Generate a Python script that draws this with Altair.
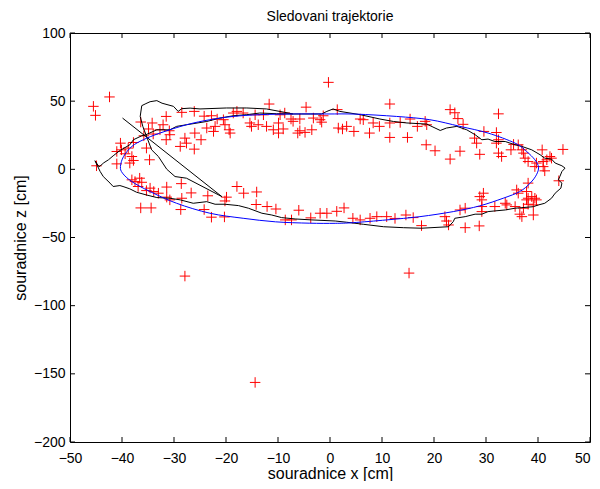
import altair as alt
import pandas as pd

FONT = "Liberation Sans"

x_ticks = [-50, -40, -30, -20, -10, 0, 10, 20, 30, 40, 50]
y_ticks = [-200, -150, -100, -50, 0, 50, 100]

# measured positions (red +)
marker_points = [
    (-42.4, 53.1), (-45.5, 46.2), (-45.1, 39.6), (-36.4, 34.7), (-34.2, 34.0), (-32.1, 32.7),
    (-31.5, 38.8), (-28.5, 41.8), (-26.1, 42.5), (-24.2, 39.0), (-22.8, 39.3), (-34.9, 29.6),
    (-32.7, 29.0), (-30.9, 28.3), (-34.0, 25.9), (-30.8, 25.4), (-35.8, 24.6), (-26.0, 26.6),
    (-23.7, 30.3), (-27.9, 22.9), (-31.5, 21.7), (-27.6, 19.2), (-28.8, 16.8), (-24.8, 21.7),
    (-26.1, 14.8), (-35.3, 15.6), (-40.3, 19.2), (-37.8, 19.7), (-38.8, 15.6), (-40.1, 14.3),
    (-41.0, 13.1), (-39.4, 11.4), (-38.1, 9.4), (-34.7, 7.0), (-38.5, 4.6), (-37.8, 6.5),
    (-41.0, 4.0), (-44.9, 2.6), (-22.4, 27.8), (-22.1, 31.5), (-20.2, 32.7), (-19.4, 29.0),
    (-19.2, 26.6), (-20.5, 36.4), (-21.7, 36.9), (-18.6, 41.3), (-17.9, 42.5), (-16.7, 41.3),
    (-14.4, 40.0), (-12.8, 40.0), (-15.4, 34.0), (-15.1, 31.5), (-13.8, 32.7), (-12.2, 31.5),
    (-10.9, 29.0), (-9.9, 34.0), (-9.0, 29.6), (-9.9, 26.6), (-8.7, 41.3), (-11.7, 47.9),
    (-4.6, 45.6), (-7.5, 36.9), (-7.1, 35.2), (-5.8, 36.9), (-3.2, 37.6), (-1.9, 36.4),
    (-4.8, 27.1), (-5.8, 28.3), (-3.5, 29.0), (-1.6, 34.6), (-6.2, 26.6), (-9.6, 40.0),
    (-1.3, 39.3), (-0.3, 63.8), (1.4, 43.8), (1.6, 30.3), (2.4, 29.6), (3.2, 31.5),
    (4.6, 27.8), (5.8, 36.9), (6.4, 36.4), (7.6, 26.6), (8.3, 34.0), (9.5, 31.5),
    (11.5, 34.0), (11.5, 23.4), (11.5, 47.9), (13.5, 34.4), (14.9, 23.4), (15.4, 36.9),
    (16.8, 31.5), (18.3, 35.2), (18.6, 32.7), (18.5, 18.0), (20.2, 13.6), (23.1, 7.5),
    (23.1, 43.8), (24.0, 41.5), (24.6, 37.2), (25.6, 33.0), (32.4, 40.7), (29.6, 27.8),
    (32.0, 27.0), (27.8, 22.9), (28.2, 19.2), (32.0, 19.2), (32.4, 21.7), (25.0, 13.3),
    (28.8, 11.0), (32.4, 11.9), (33.0, 9.4), (34.8, 14.3), (35.3, 18.3), (36.2, 18.0),
    (36.9, 14.3), (37.2, 11.9), (37.5, 8.2), (38.1, 5.7), (40.8, 14.3), (39.7, 4.6),
    (41.0, 5.7), (41.7, 7.0), (42.3, 9.4), (42.6, 8.2), (39.4, 2.0), (41.0, 2.0),
    (41.3, -1.1), (44.8, 14.6), (44.0, -8.4), (38.1, -10.1), (35.9, -15.1), (37.8, -16.3),
    (36.2, -17.5), (38.1, -21.2), (38.8, -20.0), (39.4, -21.2), (39.7, -22.4), (37.8, -22.4),
    (39.1, -26.1), (38.1, -25.6), (37.2, -28.5), (35.6, -27.3), (33.7, -24.9), (34.0, -26.1),
    (36.5, -32.9), (36.9, -34.7), (39.1, -33.5), (31.7, -27.3), (28.8, -20.0), (29.2, -22.4),
    (29.5, -17.5), (29.2, -27.3), (29.2, -31.0), (25.0, -29.8), (26.0, -28.5), (26.0, -42.8),
    (28.7, -41.5), (22.1, -34.7), (22.4, -37.9), (22.8, -40.8), (17.6, -41.3), (16.0, -35.4),
    (14.6, -33.5), (12.5, -36.0), (10.9, -34.7), (9.0, -34.7), (7.7, -35.9), (5.8, -37.1),
    (4.4, -35.9), (2.7, -28.3), (1.3, -30.8), (-0.6, -32.2), (-1.9, -32.2), (-3.7, -35.6),
    (-6.0, -30.0), (-8.6, -37.1), (-7.4, -37.1), (-10.4, -29.1), (-12.1, -27.3), (-14.2, -25.8),
    (-14.1, -16.6), (-16.6, -17.5), (-17.9, -12.6), (-19.9, -20.4), (-20.2, -23.2), (-23.5, -19.4),
    (-22.8, -35.1), (-20.3, -34.9), (-24.2, -29.5), (-28.7, -29.5), (-36.4, -28.3), (-34.4, -28.3),
    (-26.7, -17.3), (-28.5, -21.2), (-28.6, -10.5), (-31.4, -20.4), (-31.4, -13.0), (-33.0, -17.5),
    (-33.9, -16.3), (-35.3, -15.6), (-34.6, -13.8), (-36.9, -12.6), (-38.1, -7.7), (-36.6, -6.5),
    (-36.2, -9.5), (-37.5, -9.0), (-30.8, -22.4), (-27.9, -78.3), (15.2, -76.1), (-14.4, -156.3),
]

# black trajectory, in drawing order
trajectory_points = [
    (-39.9, 37.6), (-20.8, -20.0), (-27.6, -6.5), (-29.8, -5.3), (-31.4, 0.1), (-33.0, 9.4),
    (-34.3, 14.3), (-35.4, 25.4), (-36.0, 31.5), (-36.5, 38.8), (-36.2, 46.7),
    (-35.4, 48.2), (-34.6, 49.6), (-33.3, 50.4), (-32.3, 48.5), (-30.1, 46.2), (-29.2, 42.5),
    (-28.5, 44.5), (-26.9, 44.9), (-25.0, 44.3), (-19.9, 45.0), (-16.0, 45.0), (-12.2, 44.3),
    (-8.7, 41.8), (-7.1, 40.6), (-1.6, 40.6), (-0.6, 42.5), (0.6, 44.3), (1.9, 42.5),
    (5.8, 40.1), (9.6, 36.9), (12.2, 35.1), (14.8, 34.0), (18.6, 33.2), (21.2, 28.5),
    (22.4, 30.3), (24.4, 31.5), (26.3, 29.0), (27.9, 25.4), (29.2, 21.7), (30.4, 22.2),
    (31.7, 20.4), (33.7, 20.4), (35.6, 18.0), (36.9, 16.8), (38.8, 14.3), (40.4, 10.7),
    (41.3, 8.2), (42.6, 7.5), (43.3, 4.6), (44.6, 2.6), (45.2, 0.9),
    (44.6, -1.6), (44.2, -5.3), (43.9, -7.7), (44.6, -10.1), (44.4, -13.8), (43.3, -17.5),
    (42.6, -21.2), (41.3, -24.9), (40.1, -26.1), (39.1, -27.4), (36.9, -28.1), (35.6, -28.5),
    (33.7, -29.8), (31.7, -30.5), (30.4, -31.0), (29.2, -32.9), (27.9, -32.9), (26.0, -34.7),
    (24.0, -35.9), (23.7, -38.4), (22.8, -42.1), (17.6, -43.2), (14.1, -42.8), (10.3, -42.1),
    (6.4, -40.3), (3.2, -38.8), (1.0, -37.9), (-3.5, -37.1), (-6.7, -36.4), (-9.3, -35.4),
    (-11.2, -33.5), (-13.1, -32.2), (-15.7, -28.5), (-17.6, -26.6), (-20.2, -25.6), (-22.1, -25.6),
    (-23.7, -23.7), (-26.3, -24.9), (-28.8, -22.4), (-30.8, -21.2), (-33.3, -20.7), (-35.3, -18.8),
    (-37.2, -16.8), (-38.5, -14.3), (-39.8, -12.6), (-40.4, -11.9), (-41.7, -12.6), (-42.3, -10.1),
    (-43.6, -5.3), (-44.2, -1.6), (-45.2, 6.3), (-44.4, 1.8), (-43.5, 4.8), (-42.6, 7.0),
    (-41.7, 9.9), (-40.4, 13.8), (-38.5, 18.0), (-37.8, 21.7), (-36.2, 24.6), (-35.4, 25.4),
    (-33.3, 29.0), (-30.8, 29.0), (-29.5, 31.5), (-27.6, 32.7), (-23.7, 35.1), (-21.2, 37.6),
    (-18.6, 39.3), (-16.0, 40.1), (-13.5, 41.3), (-10.3, 40.8), (-7.1, 40.6),
]

# blue fitted ellipse, in drawing order (closed)
ellipse_points = [
    (40.1, 1.6), (39.4, 7.0), (37.8, 13.1), (35.6, 19.2), (30.4, 26.6), (25.0, 31.5),
    (19.2, 36.4), (12.8, 38.8), (5.0, 40.5), (-0.6, 40.6), (-7.1, 40.6), (-13.5, 40.1),
    (-18.6, 38.8), (-23.1, 36.4), (-27.6, 32.7), (-32.7, 26.6), (-35.9, 21.7), (-38.1, 16.8),
    (-39.7, 9.4), (-40.3, 2.1), (-39.9, -2.8), (-38.1, -9.0), (-34.6, -16.3), (-29.5, -24.9),
    (-23.1, -32.2), (-16.7, -35.9), (-10.5, -38.5), (-4.0, -39.5), (1.0, -39.6), (4.5, -39.1),
    (10.9, -37.1), (17.3, -34.7), (23.7, -31.0), (28.8, -26.8), (33.3, -21.2), (36.5, -16.3),
    (38.5, -10.1), (39.7, -4.0),
]

W, H = 520, 409

markers = pd.DataFrame({"x": [p[0] for p in marker_points], "z": [p[1] for p in marker_points]})
traj = pd.DataFrame({"x": [p[0] for p in trajectory_points],
                     "z": [p[1] for p in trajectory_points],
                     "i": list(range(len(trajectory_points)))})
fit = pd.DataFrame({"x": [p[0] for p in ellipse_points],
                    "z": [p[1] for p in ellipse_points],
                    "i": list(range(len(ellipse_points)))})
xt = pd.DataFrame({"x": x_ticks})
yt = pd.DataFrame({"z": y_ticks})

xs = alt.Scale(domain=[-50, 50], nice=False, zero=False)
ys = alt.Scale(domain=[-200, 100], nice=False, zero=False)

xaxis = alt.Axis(values=x_ticks, title="souradnice x [cm]", ticks=False, domain=False, grid=False,
                 labelFont=FONT, labelFontSize=14, labelColor="black", labelPadding=9,
                 labelFlush=False, labelOverlap=False,
                 labelAlign=alt.condition("datum.value == 50", alt.value("right"), alt.value("center")),
                 titleFont=FONT, titleFontSize=16, titleFontWeight="normal", titleColor="black",
                 titlePadding=0)
yaxis = alt.Axis(values=y_ticks, title="souradnice z [cm]", ticks=False, domain=False, grid=False,
                 labelFont=FONT, labelFontSize=14, labelColor="black", labelPadding=5,
                 labelFlush=False, labelOverlap=False,
                 titleFont=FONT, titleFontSize=16, titleFontWeight="normal", titleColor="black",
                 titlePadding=5)

X = alt.X("x:Q", scale=xs, axis=xaxis)
Y = alt.Y("z:Q", scale=ys, axis=yaxis)

plus = "M-1,0L1,0M0,-1L0,1"

pts = alt.Chart(markers).mark_point(shape=plus, filled=False, color="#ff0000", size=110,
                                    strokeWidth=1, opacity=1).encode(x=X, y=Y)
line = alt.Chart(traj).mark_line(color="black", strokeWidth=1).encode(x=X, y=Y, order="i:Q")
ell = alt.Chart(fit).mark_line(color="#0000ff", strokeWidth=1, interpolate="cardinal-closed").encode(
    x=X, y=Y, order="i:Q")

tb = alt.Chart(xt).mark_rule(color="black", strokeWidth=1).encode(x=X, y=alt.value(H), y2=alt.value(H - 5))
tt = alt.Chart(xt).mark_rule(color="black", strokeWidth=1).encode(x=X, y=alt.value(0), y2=alt.value(5))
tl = alt.Chart(yt).mark_rule(color="black", strokeWidth=1).encode(y=Y, x=alt.value(0), x2=alt.value(5))
tr = alt.Chart(yt).mark_rule(color="black", strokeWidth=1).encode(y=Y, x=alt.value(W), x2=alt.value(W - 5))

chart = alt.layer(pts, line, ell, tb, tt, tl, tr).properties(
    width=W, height=H,
    autosize=alt.AutoSizeParams(type="none"),
    padding={"left": 62, "top": 25, "right": 2, "bottom": 39},
    title=alt.TitleParams("Sledovani trajektorie", font=FONT, fontSize=14, fontWeight="normal",
                          color="black", offset=2, anchor="middle"),
).configure_view(stroke="black", strokeWidth=1)

chart.save("out.html", embed_options={"renderer": "svg", "actions": False})
